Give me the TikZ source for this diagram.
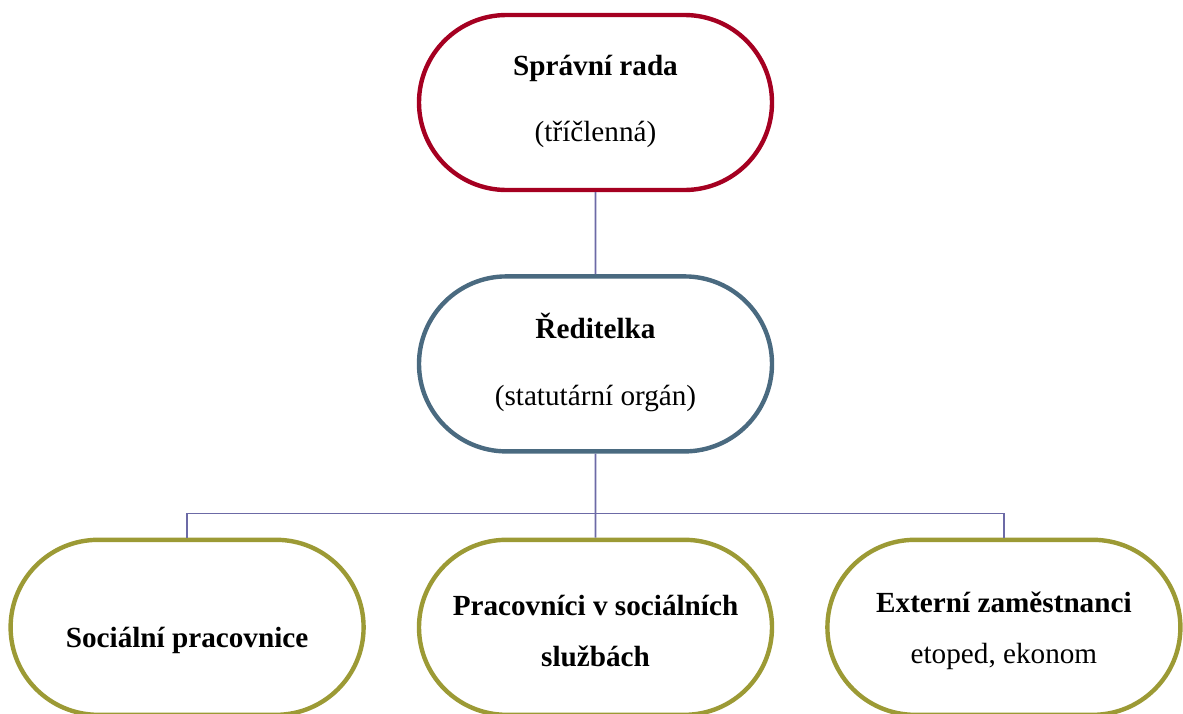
\documentclass[tikz,border=0pt]{standalone}
\usepackage{fontspec}
\setmainfont{Liberation Serif}
\usetikzlibrary{positioning, calc, shapes.misc}

\definecolor{radared}{HTML}{A50021}
\definecolor{boss}{HTML}{4A6A80}
\definecolor{staff}{HTML}{9C9A35}
\definecolor{wire}{HTML}{6C6AA6}

\begin{document}
\begin{tikzpicture}[x=0.5pt, y=-0.5pt,
    node distance=41pt,
    every node/.style={font=\fontsize{14.6}{17.5}\selectfont}, % Times-like text
    pill/.style={rounded rectangle, draw, fill=white, line width=2.2pt,
        minimum width=180.5pt, minimum height=87.5pt, align=center, inner sep=2pt},
    wiring/.style={draw=wire, line width=0.8pt}
]
\useasboundingbox (0,0) rectangle (1183,713);

% Top levels
\node (rada) [pill, draw=radared] at (595.5,102.5)
    {\textbf{Správní rada}\\[15.5pt](tříčlenná)\\[-13pt]};
\node (reditelka) [pill, draw=boss, below=41pt of rada]
    {\textbf{Ředitelka}\\[16pt](statutární orgán)\\[-13pt]};

% Staff
\node (sluzby) [pill, draw=staff, below=42pt of reditelka]
    {\\[-4pt]\textbf{Pracovníci v sociálních}\\[8pt]\textbf{službách}};
\node (socialni) [pill, draw=staff, left=25.5pt of sluzby]
    {\mbox{}\\[5.5pt]\textbf{Sociální pracovnice}};
\node (externi) [pill, draw=staff, right=25.5pt of sluzby]
    {\\[-4pt]\textbf{Externí zaměstnanci}\\[8pt]etoped, ekonom};

% Connection lines
\coordinate (bus) at ($(reditelka.south)+(0,-30pt)$);
\draw[wiring] (rada) -- (reditelka);
\draw[wiring] (reditelka) -- (sluzby);
\draw[wiring] (socialni.north) |- (bus) -| (externi.north);

\end{tikzpicture}
\end{document}
